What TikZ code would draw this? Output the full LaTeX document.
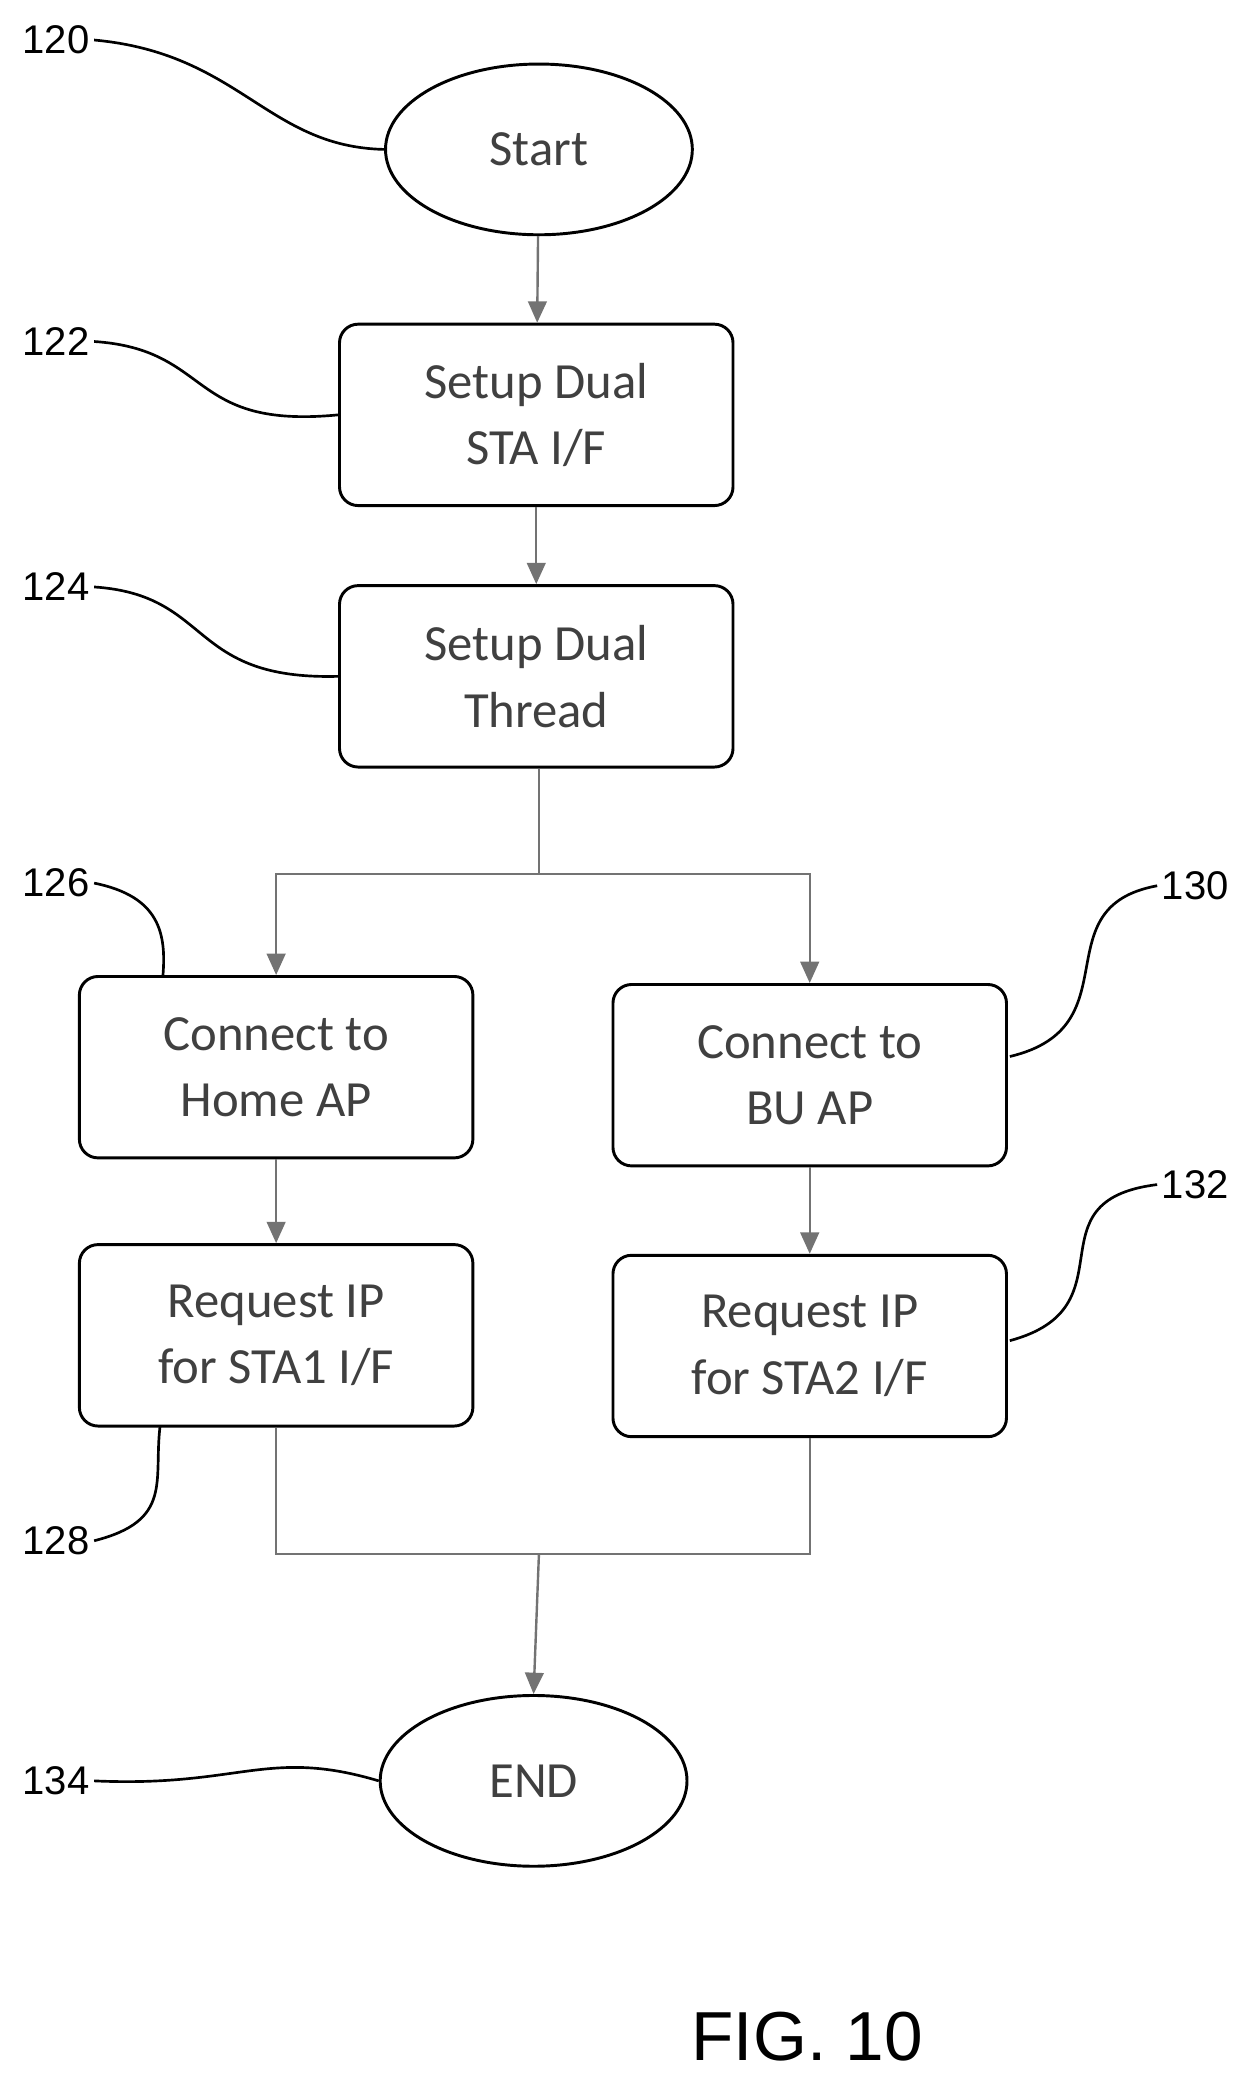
\documentclass[tikz,border=0pt]{standalone}
\usepackage{fontspec}
\setmainfont{Carlito}
\newfontfamily\numfont{Liberation Sans}
\usetikzlibrary{shapes.geometric,arrows.meta}
\begin{document}
\begin{tikzpicture}[x=1pt,y=-1pt,
  box/.style={draw,line width=2.2pt,rounded corners=14pt,minimum width=295pt,minimum height=136pt,align=center,font=\fontsize{38}{50}\selectfont,text=black!75},
  term/.style={draw,line width=2.2pt,ellipse,minimum width=230pt,minimum height=128pt,font=\fontsize{38}{46}\selectfont,text=black!75},
  con/.style={draw=black!55,line width=1.8pt},
  arr/.style={con,-{Triangle[length=16pt,width=14pt]}},
  lead/.style={line width=2pt},
  num/.style={font=\numfont\fontsize{30}{30}\selectfont}]
\useasboundingbox (0,0) rectangle (937,1566);
\node[term] (s) at (404,112) {Start};
\node[box] (b122) at (402,311) {Setup Dual\\STA I/F};
\node[box] (b124) at (402,507) {Setup Dual\\Thread};
\node[box] (b126) at (207,800) {Connect to\\Home AP};
\node[box] (b130) at (607,806) {Connect to\\BU AP};
\node[box] (b128) at (207,1001) {Request IP\\for STA1 I/F};
\node[box] (b132) at (607,1009) {Request IP\\for STA2 I/F};
\node[term] (e) at (400,1335) {END};
\coordinate (sp) at (404,655);
\coordinate (mg) at (404,1165);
\draw[arr] (s) -- (b122);
\draw[arr] (b122) -- (b124);
\draw[con] (b124.south -| sp) -- (sp);
\draw[arr] (sp) -| (b126.north);
\draw[arr] (sp) -| (b130.north);
\draw[arr] (b126) -- (b128);
\draw[arr] (b130) -- (b132);
\draw[con] (b128.south) |- (mg);
\draw[con] (b132.south) |- (mg);
\draw[arr] (mg) -- (e.north);
\node[num] (n120) at (42,30) {120};
\node[num] (n122) at (42,256) {122};
\node[num] (n124) at (42,440) {124};
\node[num] (n126) at (42,662) {126};
\node[num] (n130) at (896,664) {130};
\node[num] (n132) at (896,888) {132};
\node[num] (n128) at (42,1155) {128};
\node[num] (n134) at (42,1335) {134};
\draw[lead] (n120.east) .. controls (180,40) and (200,110) .. (s.west);
\draw[lead] (n122.east) .. controls (160,262) and (140,322) .. (b122.west);
\draw[lead] (n124.east) .. controls (160,446) and (140,510) .. (b124.west);
\draw[lead] (n126.east) .. controls (120,672) and (125,700) .. (122,733);
\draw[lead] (n130.west) .. controls (780,680) and (850,770) .. (757,792);
\draw[lead] (n132.west) .. controls (770,900) and (850,980) .. (757,1005);
\draw[lead] (n128.east) .. controls (130,1140) and (115,1110) .. (120,1069);
\draw[lead] (n134.east) .. controls (180,1340) and (200,1310) .. (e.west);
\node[font=\numfont\fontsize{52}{52}\selectfont] (fig) at (605,1527) {FIG. 10};
\end{tikzpicture}
\end{document}
